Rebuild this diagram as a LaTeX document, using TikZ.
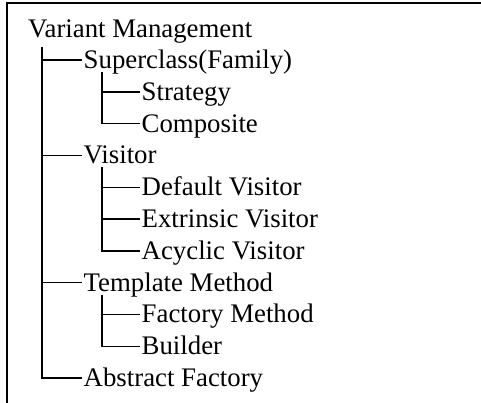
\documentclass[tikz,border=0pt]{standalone}
\usepackage{fontspec}
\setmainfont{Liberation Serif}
\begin{document}
\begin{tikzpicture}[x=1pt, y=-1pt,
  frame/.style={line width=2pt, line cap=rect},
  branch/.style={line width=1.4pt},
  item/.style={anchor=west, inner ysep=0pt, inner xsep=1.5pt,
    text height=18pt, text depth=1pt,
    font=\fontsize{26.8}{30}\selectfont}]
\useasboundingbox (0,0) rectangle (481,402);

% open frame: top and left edges only
\draw[frame] (7,403) -- (7,3) -- (482,3);

% root
\node[item] (vm) at (26.5,28.5) {Variant Management};

% first level
\node[item] (sc)  at (82,60.0)  {Superclass(Family)};
\node[item] (vis) at (82,155.4) {Visitor};
\node[item] (tm)  at (82,282.6) {Template Method};
\node[item] (af)  at (82,378.0) {Abstract Factory};

% second level
\node[item] (st) at (140,91.8)  {Strategy};
\node[item] (co) at (140,123.6) {Composite};
\node[item] (dv) at (140,187.2) {Default Visitor};
\node[item] (ev) at (140,219.0) {Extrinsic Visitor};
\node[item] (av) at (140,250.8) {Acyclic Visitor};
\node[item] (fm) at (140,314.4) {Factory Method};
\node[item] (bu) at (140,346.2) {Builder};

% trunk tops below each parent
\coordinate (vm-t)  at (42,47);
\coordinate (sc-t)  at (102,72);
\coordinate (vis-t) at (102,167);
\coordinate (tm-t)  at (102,295);

% connectors
\foreach \c in {sc,vis,tm,af} \draw[branch] (vm-t) |- (\c.west);
\foreach \c in {st,co} \draw[branch] (sc-t) |- (\c.west);
\foreach \c in {dv,ev,av} \draw[branch] (vis-t) |- (\c.west);
\foreach \c in {fm,bu} \draw[branch] (tm-t) |- (\c.west);
\end{tikzpicture}
\end{document}
